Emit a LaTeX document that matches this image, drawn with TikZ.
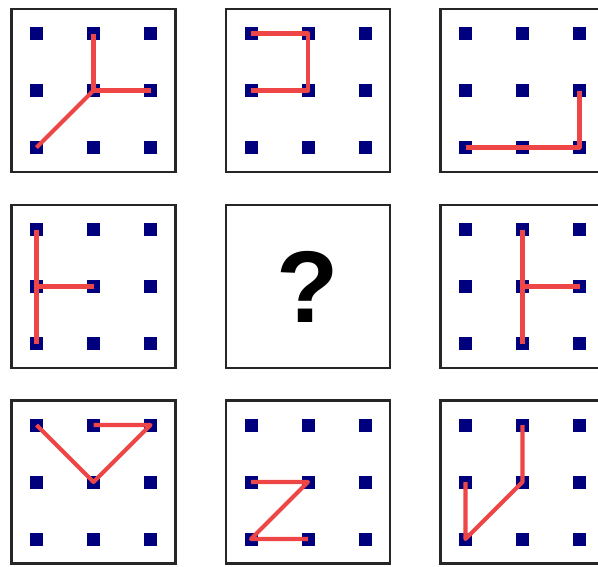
\documentclass[tikz,border=0pt]{standalone}
\usepackage{fontspec}
\setmainfont{Liberation Sans}
\usepackage{xcolor}
\usetikzlibrary{positioning}
\definecolor{ink}{HTML}{262626}
\definecolor{navy}{HTML}{00007F}
\definecolor{stick}{HTML}{EE4646}

\begin{document}
\begin{tikzpicture}[
  x=0.02cm, y=-0.02cm,
  cell/.style={
    draw=ink,
    line width=1.6pt,
    fill=white,
    minimum width=3.28cm,
    minimum height=3.26cm,
    inner sep=0pt
  },
  dot/.style={fill=navy, minimum size=0.26cm, inner sep=0pt},
  stroke/.style={draw=stick, line width=2.3pt, line join=round},
  ask/.style={font=\bfseries\fontsize{58}{58}\selectfont, text=black, inner sep=0pt}
]

\path[use as bounding box] (0,0) rectangle (598,566);

% the nine panels
\foreach \r/\y in {1/90.5,2/286.5,3/482}
  \foreach \c/\x in {1/93.5,2/308,3/522.5}
    \node[cell] (c\r\c) at (\x,\y) {};

% 3x3 pegs in every panel but the middle one
\foreach \cc in {c11,c12,c13,c21,c23,c31,c32,c33}
  \foreach \i in {0,1,2}
    \foreach \j in {0,1,2}
      \node[dot] (\cc-\i\j) at ([shift={(\i*57-57,\j*57-57)}]\cc.center) {};

% row 1
\draw[stroke] (c11-10.center) -- (c11-11.center) -- (c11-21.center);
\draw[stroke] (c11-11.center) -- (c11-02.center);
\draw[stroke] (c12-00.center) -- (c12-10.center) -- (c12-11.center) -- (c12-01.center);
\draw[stroke] (c13-21.center) -- (c13-22.center) -- (c13-02.center);

% row 2
\draw[stroke] (c21-00.center) -- (c21-02.center);
\draw[stroke] (c21-01.center) -- (c21-11.center);
\node[ask] (q) at (c22.center) {?};
\draw[stroke] (c23-10.center) -- (c23-12.center);
\draw[stroke] (c23-11.center) -- (c23-21.center);

% row 3
\draw[stroke] (c31-00.center) -- (c31-11.center) -- (c31-20.center) -- (c31-10.center);
\draw[stroke] (c32-01.center) -- (c32-11.center) -- (c32-02.center) -- (c32-12.center);
\draw[stroke] (c33-10.center) -- (c33-11.center) -- (c33-02.center) -- (c33-01.center);

\end{tikzpicture}
\end{document}
